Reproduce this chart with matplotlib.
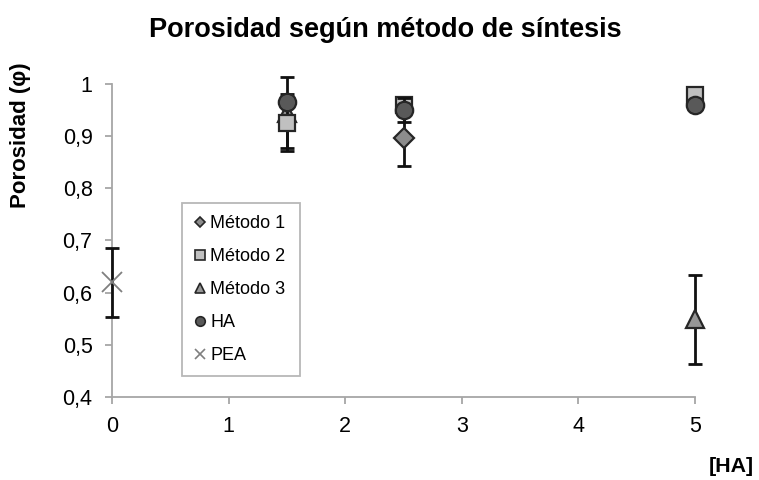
import matplotlib

matplotlib.use("Agg")

import matplotlib.pyplot as plt

plt.rcParams["font.family"] = ["Liberation Sans", "DejaVu Sans"]

# series values
m1_x = [2.5]
m1_y = [0.897]
m1_err = [0.054]

m2_x = [1.5, 2.5, 5]
m2_y = [0.926, 0.960, 0.979]
m2_err = [0.055, 0.0, 0.0]

m3_x = [1.5, 5]
m3_y = [0.945, 0.549]
m3_err = [0.068, 0.085]

ha_x = [1.5, 2.5, 5]
ha_y = [0.966, 0.951, 0.960]
ha_err = [0.0, 0.023, 0.0]

pea_x = [0]
pea_y = [0.620]
pea_err = [0.066]

x_ticks = [0, 1, 2, 3, 4, 5]
y_ticks = [0.4, 0.5, 0.6, 0.7, 0.8, 0.9, 1.0]
y_labels = ["0,4", "0,5", "0,6", "0,7", "0,8", "0,9", "1"]

AXIS_GRAY = "#a6a6a6"
EDGE = "#262626"


def draw_series(ax, x, y, err, label, marker, face, size, z, edge=EDGE, mew=1.6):
    bars = ax.errorbar(
        x, y, yerr=err, fmt="none", ecolor="#111111", elinewidth=2.0,
        capsize=5, capthick=2.0, zorder=z - 0.5,
    )
    for artist in bars.lines[1] + bars.lines[2]:
        artist.set_clip_on(False)
    ax.plot(
        x, y, linestyle="none", marker=marker, markersize=size,
        markerfacecolor=face, markeredgecolor=edge, markeredgewidth=mew,
        zorder=z, clip_on=False,
    )
    # legend proxy with smaller marker
    ax.plot(
        [], [], linestyle="none", marker=marker, markersize=size * 0.55,
        markerfacecolor=face, markeredgecolor=edge, markeredgewidth=1.2,
        label=label,
    )


fig = plt.figure(figsize=(7.59, 4.8), dpi=100)
ax = fig.add_axes([112 / 759, 1 - 397 / 480, 583 / 759, 313 / 480])

draw_series(ax, m1_x, m1_y, m1_err, "Método 1", "D", "#8c8c8c", 10, 3)
draw_series(ax, m2_x, m2_y, m2_err, "Método 2", "s", "#c0c0c0", 12, 5)
draw_series(ax, m3_x, m3_y, m3_err, "Método 3", "^", "#969696", 13, 4)
draw_series(ax, ha_x, ha_y, ha_err, "HA", "o", "#595959", 12.5, 6)
draw_series(ax, pea_x, pea_y, pea_err, "PEA", "x", "#7f7f7f", 14, 7,
            edge="#7f7f7f", mew=1.3)

ax.set_xlim(0, 5)
ax.set_ylim(0.4, 1.0)
ax.set_xticks(x_ticks)
ax.set_xticklabels([str(t) for t in x_ticks])
ax.set_yticks(y_ticks)
ax.set_yticklabels(y_labels)

for side in ("top", "right"):
    ax.spines[side].set_visible(False)
for side in ("left", "bottom"):
    ax.spines[side].set_color(AXIS_GRAY)
    ax.spines[side].set_linewidth(1.3)
ax.tick_params(axis="both", direction="out", length=5, width=1.3,
               color=AXIS_GRAY, labelsize=15.5, labelcolor="black")
ax.tick_params(axis="y", pad=9)
ax.tick_params(axis="x", pad=9)

fig.text(385 / 759, 1 - 30 / 480, "Porosidad según método de síntesis",
         ha="center", va="center", fontsize=19.5, fontweight="bold")
fig.text(21 / 759, 1 - 135 / 480, "Porosidad (φ)", rotation=90,
         ha="center", va="center", fontsize=16, fontweight="bold")
fig.text(731 / 759, 1 - 467 / 480, "[HA]", ha="center", va="center",
         fontsize=15.4, fontweight="bold")

leg = ax.legend(
    loc="lower left", bbox_to_anchor=(70 / 583, 21 / 313, 118 / 583, 173 / 313),
    mode="expand", fontsize=13, frameon=True, fancybox=False,
    handlelength=0.6, handletextpad=0.3, labelspacing=0.88,
    borderpad=0.67, borderaxespad=0, numpoints=1,
)
leg.get_frame().set_edgecolor(AXIS_GRAY)
leg.get_frame().set_linewidth(1.3)

fig.savefig("out.png", dpi=100)
